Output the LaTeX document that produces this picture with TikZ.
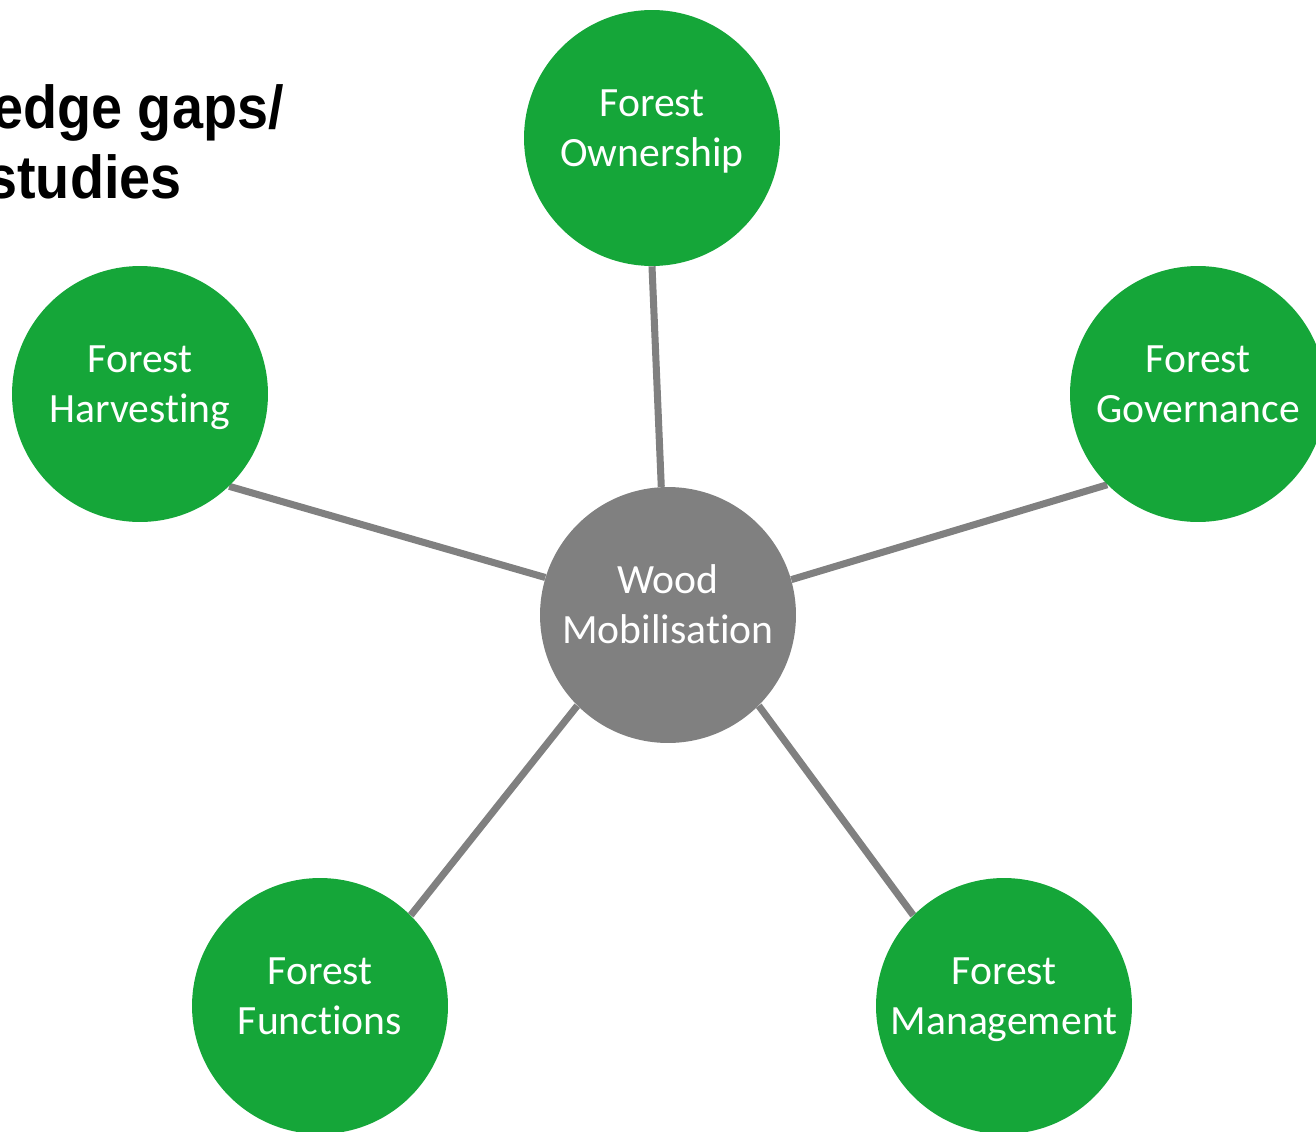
\documentclass[tikz,border=0pt]{standalone}
\usepackage{graphicx}
\usepackage{fontspec}
\setmainfont{Carlito}[Ligatures=NoCommon]
\newfontfamily\titlefont{Liberation Sans}
\usetikzlibrary{backgrounds}
\definecolor{leafgreen}{RGB}{21,166,57}
\definecolor{hubgray}{RGB}{128,128,128}
\newcommand{\lineprop}{\rule[-0.58em]{0pt}{1.35em}}
\newcommand{\topicfont}{\fontsize{23.7}{28.45}\selectfont\setlength{\lineskiplimit}{-100pt}}
\tikzstyle{link}=[draw=hubgray,line width=4pt]

\begin{document}
\begin{tikzpicture}[x=0.02cm,y=-0.02cm]
\tikzstyle{topic}=[shape=circle,fill=leafgreen,text=white,minimum size=5.12cm,inner sep=0pt,align=center,font=\topicfont]
\tikzstyle{hub}=[topic,fill=hubgray]
\tikzstyle{heading}=[anchor=base east,inner sep=0pt,font=\titlefont\bfseries\fontsize{34.5}{40}\selectfont]
\useasboundingbox (0,0) rectangle (1316,1132);
% heading
\node[heading] (head1) at (284,129) {\scalebox{0.92}[1]{edge gaps/}};
\node[heading] (head2) at (182,198) {\scalebox{0.92}[1]{studies}};
% hub
\node[hub] (wood) at (668,615) {\lineprop Wood\\\lineprop Mobilisation};
% topics
\node[topic] (own) at (652,138) {\lineprop Forest\\\lineprop Ownership};
\node[topic] (harv) at (140,394) {\lineprop Forest\\\lineprop Harvesting};
\node[topic] (gov) at (1198,394) {\lineprop Forest\\\lineprop Governance};
\node[topic] (func) at (320,1006) {\lineprop Forest\\\lineprop Functions};
\node[topic] (man) at (1004,1006) {\lineprop Forest\\\lineprop Management};
% links
\begin{scope}[on background layer]
\draw[link] (wood.93.6) -- (own.270);
\draw[link] (wood.163.3) -- (harv.314.4);
\draw[link] (wood.16.7) -- (gov.225.6);
\draw[link] (wood.225.3) -- (func.45);
\draw[link] (wood.315) -- (man.135);
\end{scope}
\end{tikzpicture}
\end{document}
